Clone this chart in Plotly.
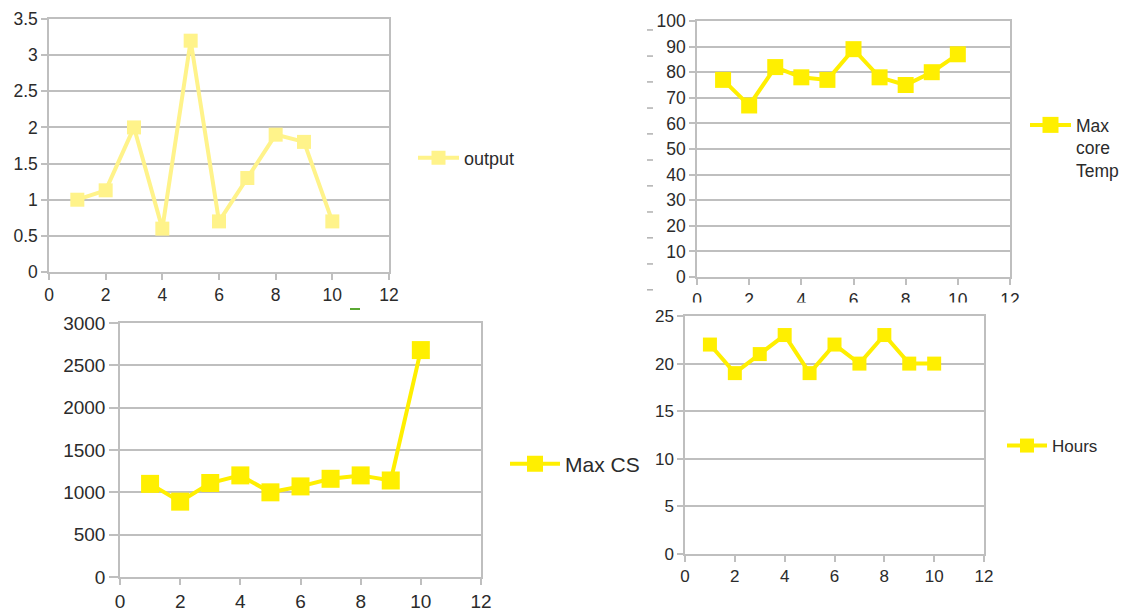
import plotly.graph_objects as go

W, H = 1133, 616

# run number shared by all four series
run = [1, 2, 3, 4, 5, 6, 7, 8, 9, 10]

output = [1.0, 1.13, 2.0, 0.6, 3.2, 0.7, 1.3, 1.9, 1.8, 0.7]
max_core_temp = [77, 67, 82, 78, 77, 89, 78, 75, 80, 87]
max_cs = [1100, 890, 1110, 1200, 1000, 1070, 1160, 1200, 1140, 2680]
hours = [22, 19, 21, 23, 19, 22, 20, 23, 20, 20]

x_ticks = [0, 2, 4, 6, 8, 10, 12]
output_ticks = [0, 0.5, 1, 1.5, 2, 2.5, 3, 3.5]
temp_ticks = [0, 10, 20, 30, 40, 50, 60, 70, 80, 90, 100]
cs_ticks = [0, 500, 1000, 1500, 2000, 2500, 3000]
hours_ticks = [0, 5, 10, 15, 20, 25]

# short grey dashes left of the temperature axis (in temperature units)
stray_ticks = [96.5, 86.3, 76.2, 66.0, 55.9, 45.7, 35.6, 25.4, 15.3, 5.1, -5.0]

FONT = "Liberation Sans, Arial, sans-serif"
TEXT = "#2b2b2b"
GRID = "#bfbfbf"
PALE_YELLOW = "#FFF38A"
YELLOW = "#FFEF00"


def px_x(p):
    return p / W


def px_y(p):
    return 1 - p / H


# plot-area boxes in pixels: (left, right, top, bottom)
panels = [
    dict(box=(49, 389, 19, 272), name="output", y=output, yticks=output_ticks,
         yrange=[0, 3.5], color=PALE_YELLOW, msize=14, font=17.5, ylen=6,
         leg=(413, 158), legfont=18, itemwidth=41, valign="middle"),
    dict(box=(697, 1010, 21, 277), name="Max<br>core<br>Temp", y=max_core_temp,
         yticks=temp_ticks, yrange=[0, 100], color=YELLOW, msize=16, font=17.5,
         ylen=6, leg=(1025, 107), legfont=17.5, itemwidth=41, valign="top"),
    dict(box=(120, 481, 323, 577), name="Max CS", y=max_cs, yticks=cs_ticks,
         yrange=[0, 3000], color=YELLOW, msize=18, font=19, ylen=9,
         leg=(505, 464), legfont=21, itemwidth=50, valign="middle"),
    dict(box=(685, 984, 316, 554), name="Hours", y=hours, yticks=hours_ticks,
         yrange=[0, 25], color=YELLOW, msize=14, font=17, ylen=6,
         leg=(1002, 446), legfont=17, itemwidth=40, valign="middle"),
]

fig = go.Figure()
layout = dict(
    width=W, height=H,
    margin=dict(l=0, r=0, t=0, b=0, autoexpand=False),
    paper_bgcolor="white", plot_bgcolor="white",
    font=dict(family=FONT, color=TEXT),
    showlegend=True,
    shapes=[],
)

for i, p in enumerate(panels, start=1):
    sfx = "" if i == 1 else str(i)
    leg = "legend" if i == 1 else f"legend{i}"
    l, r, t, b = p["box"]
    fig.add_trace(go.Scatter(
        x=run, y=p["y"], name=p["name"], mode="lines+markers",
        xaxis=f"x{sfx}", yaxis=f"y{sfx}", legend=leg,
        line=dict(color=p["color"], width=4),
        marker=dict(symbol="square", size=p["msize"], color=p["color"]),
        cliponaxis=False, hoverinfo="skip",
    ))
    common = dict(
        showline=True, linecolor=GRID, linewidth=1.5, mirror=True,
        ticks="outside", tickcolor=GRID, tickwidth=1.5,
        tickfont=dict(family=FONT, size=p["font"], color=TEXT),
        zeroline=False, fixedrange=True, automargin=False,
    )
    layout[f"xaxis{sfx}"] = dict(
        domain=[px_x(l), px_x(r)], range=[0, 12], tickvals=x_ticks,
        showgrid=False, anchor=f"y{sfx}", ticklen=6, **common,
    )
    layout[f"yaxis{sfx}"] = dict(
        domain=[px_y(b), px_y(t)], range=p["yrange"], tickvals=p["yticks"],
        showgrid=True, gridcolor=GRID, gridwidth=1.5, anchor=f"x{sfx}",
        ticklen=p["ylen"], **common,
    )
    lx, ly = p["leg"]
    layout[leg] = dict(
        x=px_x(lx), y=px_y(ly), xref="paper", yref="paper",
        xanchor="left", yanchor="top" if p["valign"] == "top" else "middle",
        bgcolor="rgba(0,0,0,0)", borderwidth=0, itemwidth=p["itemwidth"],
        valign=p["valign"], tracegroupgap=0,
        font=dict(family=FONT, size=p["legfont"], color=TEXT),
    )

# dashes beside the temperature axis, mapped through that panel's y scale
_, _, t2, b2 = panels[1]["box"]
lo2, hi2 = panels[1]["yrange"]
for v in stray_ticks:
    py = b2 - (v - lo2) / (hi2 - lo2) * (b2 - t2)
    layout["shapes"].append(dict(
        type="line", xref="paper", yref="paper", layer="below",
        x0=px_x(647), x1=px_x(653), y0=px_y(py), y1=px_y(py),
        line=dict(color="#b0b0b0", width=1.5),
    ))

# the lower-right chart sits on top of the temperature chart's x labels
layout["shapes"].append(dict(
    type="rect", xref="paper", yref="paper", layer="above",
    x0=px_x(660), x1=px_x(1040), y0=px_y(309), y1=px_y(302.5),
    fillcolor="white", line=dict(width=0),
))
# small green mark between the two left charts
layout["shapes"].append(dict(
    type="line", xref="paper", yref="paper", layer="above",
    x0=px_x(350), x1=px_x(360), y0=px_y(309), y1=px_y(309),
    line=dict(color="#5aa832", width=2),
))

fig.update_layout(**layout)
fig.write_html("out.html")
